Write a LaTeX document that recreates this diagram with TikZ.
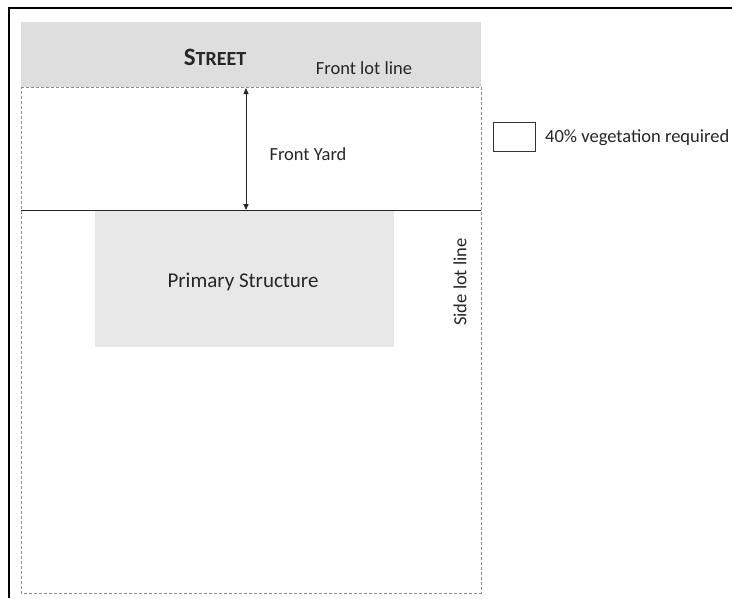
\documentclass[tikz,border=0pt]{standalone}
\usepackage{fontspec}
\setmainfont{Carlito}
\usetikzlibrary{arrows.meta}
\begin{document}
\begin{tikzpicture}[x=1pt,y=-1pt,
  lotline/.style={draw=black!45,line width=0.9pt,densely dashed},
  lbl/.style={inner sep=0pt,font=\fontsize{18.5}{20}\selectfont,text=black!85},
  dimarrow/.style={draw=black!85,line width=0.8pt,{Triangle[length=6pt,width=5pt]}-{Triangle[length=6pt,width=5pt]}}]
\useasboundingbox (0,0) rectangle (732,598);
\fill[white] (0,0) rectangle (732,598);
% outer frame
\draw[line width=1.8pt] (9,598) -- (9,8) -- (732,8);
% street
\fill[black!13] (21,22) rectangle (481,87);
\node[lbl,font=\fontsize{25}{28}\selectfont\bfseries] (street) at (215,57) {S\fontsize{20}{22}\selectfont TREET};
\node[lbl] (flot) at (364,68) {Front lot line};
% lot
\coordinate (tl) at (21,87);
\coordinate (tr) at (481,87);
\coordinate (bl) at (21,593);
\coordinate (br) at (481,593);
\draw[lotline] (tl) -- (tr) -- (br) -- (bl) -- cycle;
% primary structure
\node[fill=black!9,minimum width=299pt,minimum height=136pt,anchor=north west,inner sep=0pt] (ps) at (95,211) {};
\node[lbl,font=\fontsize{21}{23}\selectfont] (pst) at (243,282) {Primary Structure};
% front yard line
\coordinate (fyl) at (21,210);
\coordinate (fyr) at (481,210);
\draw[black!85,line width=1pt] (fyl) -- (fyr);
\coordinate (at) at (246,88);
\coordinate (ab) at (246,210);
\draw[dimarrow] (at) -- (ab);
\node[lbl] (fy) at (308,154) {Front Yard};
% side lot line
\node[lbl,rotate=90] (slot) at (460,282) {Side lot line};
% legend
\node[draw=black!80,line width=0.8pt,minimum width=42pt,minimum height=29pt,inner sep=0pt,anchor=north west] (leg) at (493,122) {};
\node[lbl,anchor=west] (legt) at (545,138) {40\% vegetation required};
\end{tikzpicture}
\end{document}
